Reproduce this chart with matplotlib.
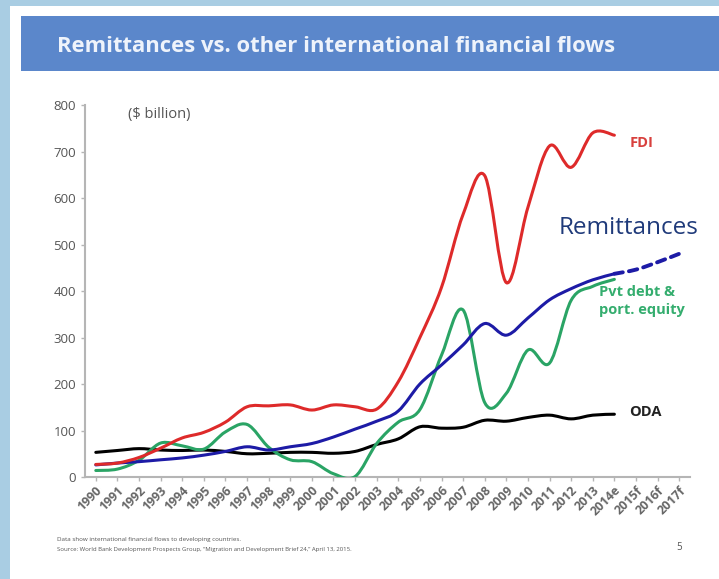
import numpy as np
import matplotlib
matplotlib.use("Agg")
import matplotlib.pyplot as plt
from matplotlib.path import Path
from matplotlib.patches import PathPatch, Rectangle

plt.rcParams["font.family"] = ["Open Sans", "DejaVu Sans"]

years = ["1990", "1991", "1992", "1993", "1994", "1995", "1996", "1997", "1998",
         "1999", "2000", "2001", "2002", "2003", "2004", "2005", "2006", "2007",
         "2008", "2009", "2010", "2011", "2012", "2013", "2014e", "2015f",
         "2016f", "2017f"]

fdi = [27, 30, 42, 62, 84, 96, 118, 151, 153, 155, 144, 155, 151, 146, 205,
       300, 408, 565, 648, 418, 580, 712, 666, 740, 735]
remit = [26, 30, 33, 37, 41, 47, 55, 65, 58, 65, 72, 86, 103, 120, 142,
         200, 241, 284, 330, 305, 342, 381, 405, 424, 437]
remit_fc = [437, 446, 462, 480]
pvt = [14, 17, 36, 73, 67, 60, 97, 113, 64, 37, 33, 7, 1, 72, 118, 145,
       262, 359, 160, 180, 273, 245, 380, 410, 425]
oda = [53, 57, 61, 58, 57, 58, 55, 50, 51, 53, 53, 51, 55, 70, 82, 108,
       105, 107, 122, 120, 128, 133, 125, 133, 135]


def smooth_line(ax, xs, ys, **kw):
    # Catmull-Rom style bezier through the points (like Excel "smoothed line")
    xs = np.asarray(xs, float)
    ys = np.asarray(ys, float)
    pts = np.column_stack([xs, ys])
    verts = [pts[0]]
    codes = [Path.MOVETO]
    n = len(pts)
    for i in range(n - 1):
        p0 = pts[i - 1] if i > 0 else pts[i]
        p1 = pts[i]
        p2 = pts[i + 1]
        p3 = pts[i + 2] if i + 2 < n else pts[i + 1]
        c1 = p1 + (p2 - p0) / 6.0
        c2 = p2 - (p3 - p1) / 6.0
        verts += [c1, c2, p2]
        codes += [Path.CURVE4] * 3
    patch = PathPatch(Path(verts, codes), facecolor="none", capstyle="round",
                      joinstyle="round", **kw)
    ax.add_patch(patch)
    return patch


fig = plt.figure(figsize=(7.19, 5.79), dpi=100)
fig.patch.set_facecolor("#a9cde3")
fig.add_artist(Rectangle((10 / 719, 0), 1, 1 - 6 / 579, transform=fig.transFigure,
                         facecolor="white", edgecolor="none", zorder=0))
fig.add_artist(Rectangle((21 / 719, 1 - 71 / 579), 1, 55 / 579, transform=fig.transFigure,
                         facecolor="#5b87cb", edgecolor="none", zorder=1))
fig.text(57 / 719, 1 - 47 / 579, "Remittances vs. other international financial flows",
         color="#eef3fb", fontsize=15.8, fontweight="bold", va="center", ha="left")

ax = fig.add_axes([85 / 719, 102 / 579, 605 / 719, 372 / 579])
ax.set_facecolor("none")
ax.set_xlim(-0.5, 27.5)
ax.set_ylim(0, 800)

x = np.arange(len(fdi))
lw = 2.2
smooth_line(ax, x, oda, edgecolor="black", lw=lw, zorder=3)
smooth_line(ax, x, pvt, edgecolor="#2aa465", lw=lw, zorder=4)
smooth_line(ax, x, remit, edgecolor="#1d1ba6", lw=lw, zorder=5)
smooth_line(ax, np.arange(24, 24 + len(remit_fc)), remit_fc, edgecolor="#1d1ba6",
            lw=lw + 0.6, linestyle=(0, (2.2, 1.6)), zorder=5)
smooth_line(ax, x, fdi, edgecolor="#de2a2a", lw=lw, zorder=6)

for s in ["top", "right"]:
    ax.spines[s].set_visible(False)
for s in ["left", "bottom"]:
    ax.spines[s].set_color("#b5b5b5")
    ax.spines[s].set_linewidth(1.5)
ax.set_yticks(range(0, 801, 100))
ax.tick_params(axis="y", colors="#b5b5b5", length=3, width=1, labelcolor="#555555",
               labelsize=9.5)
ax.set_xticks(range(len(years)))
ax.set_xticklabels(years, rotation=45, ha="right", rotation_mode="anchor",
                   fontweight="bold", fontsize=9)
ax.tick_params(axis="x", colors="#b5b5b5", length=3, width=1, labelcolor="#666666",
               pad=2)

ax.text(1.5, 780, "($ billion)", fontsize=10.5, color="#555555", va="center")
ax.text(24.7, 718, "FDI", fontsize=10.5, color="#d8403d", fontweight="bold", va="center")
ax.text(24.7, 140, "ODA", fontsize=10.5, color="#222222", fontweight="bold", va="center")
ax.text(23.3, 412, "Pvt debt &\nport. equity", fontsize=10.5, color="#34ad6e",
        fontweight="bold", va="top", linespacing=1.3)
ax.text(21.4, 535, "Remittances", fontsize=17.5, color="#1f3a7a", va="center",
        bbox=dict(facecolor="white", edgecolor="none", pad=1), zorder=7)

fig.text(57 / 719, 1 - 540 / 579, "Data show international financial flows to developing countries.",
         fontsize=4.5, color="#555555", va="center")
fig.text(57 / 719, 1 - 549 / 579,
         "Source: World Bank Development Prospects Group, \u201cMigration and Development Brief 24,\u201d April 13, 2015.",
         fontsize=4.3, color="#555555", va="center")
fig.text(676 / 719, 1 - 548 / 579, "5", fontsize=7, color="#555555", va="center")

fig.savefig("out.png", dpi=100)
